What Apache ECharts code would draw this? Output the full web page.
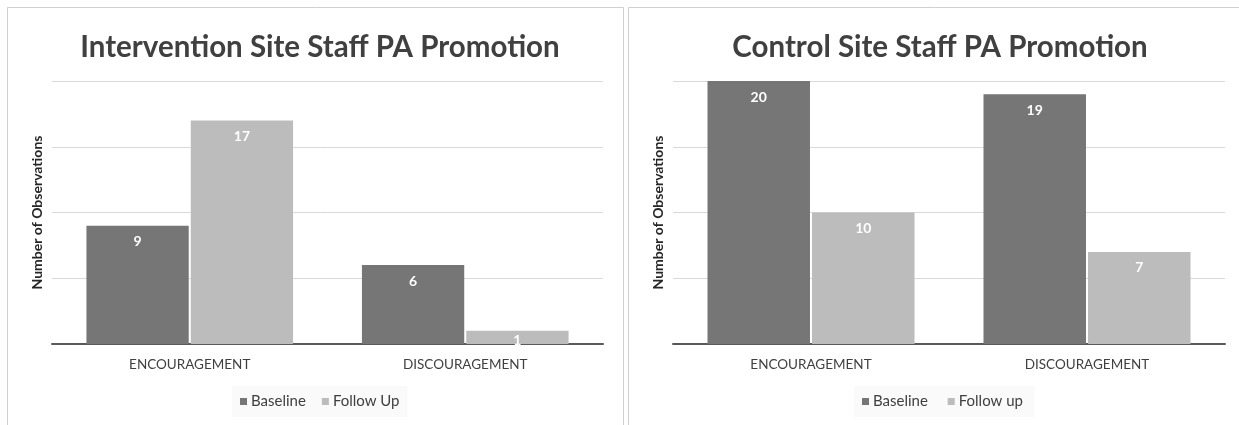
<!DOCTYPE html>
<html><head><meta charset="utf-8">
<script src="https://cdn.jsdelivr.net/npm/echarts@6/dist/echarts.min.js"></script>
<style>html,body{margin:0;padding:0;background:#fff}#c{width:1239px;height:425px}</style>
</head><body><div id="c"></div>
<script>
const categories = ['ENCOURAGEMENT', 'DISCOURAGEMENT'];
const leftTitle = 'Intervention Site Staff PA Promotion';
const rightTitle = 'Control Site Staff PA Promotion';
const leftSeriesNames = ['Baseline', 'Follow Up'];
const rightSeriesNames = ['Baseline', 'Follow up'];
const interventionBaseline = [9, 6];
const interventionFollowUp = [17, 1];
const controlBaseline = [20, 19];
const controlFollowUp = [10, 7];
const yAxisName = 'Number of Observations';

const DARK = '#767676', LIGHT = '#bcbcbc', TXT = '#404040';
const FONT = 'Lato, "Open Sans", sans-serif';

function mkData(vals){
  return vals.map(v => v < 3 ? {value: v, label: {distance: 3}} : v);
}
function barSeries(name, vals, color, idx){
  return {
    type: 'bar', name: name, data: mkData(vals),
    xAxisIndex: idx, yAxisIndex: idx,
    barCategoryGap: '25%', barGap: '2%',
    itemStyle: {color: color},
    label: {show: true, position: 'insideTop', distance: 9, color: '#fff',
            fontWeight: 'bold', fontSize: 14, fontFamily: FONT},
    emphasis: {disabled: true}, animation: false
  };
}
function yAxis(idx){
  return {type: 'value', gridIndex: idx, min: 0, max: 20, interval: 5,
    axisLabel: {show: false}, axisLine: {show: false}, axisTick: {show: false},
    splitLine: {lineStyle: {color: '#d9d9d9', width: 1}},
    name: yAxisName, nameLocation: 'middle', nameGap: 8,
    nameTextStyle: {fontSize: 14, fontWeight: 'bold', color: '#262626', fontFamily: FONT}};
}
function xAxis(idx){
  return {type: 'category', gridIndex: idx, data: categories,
    axisLine: {lineStyle: {color: '#595959', width: 2}}, axisTick: {show: false},
    axisLabel: {fontSize: 13.5, color: TXT, margin: 14, fontFamily: FONT}};
}
function legend(names, left){
  return {data: names.map((n) => ({name: n})), left: left, top: 386, icon: 'rect',
    itemWidth: 7, itemHeight: 7, itemGap: 16, padding: [8, 8, 8, 8],
    backgroundColor: '#fafafa',
    textStyle: {fontSize: 15, color: TXT, fontFamily: FONT, padding: [0, 0, 0, -1]}, selectedMode: false};
}

const chart = echarts.init(document.getElementById('c'), null, {renderer: 'canvas'});
chart.setOption({
  backgroundColor: '#fff',
  animation: false,
  graphic: [
    {type: 'rect', shape: {x: 7.5, y: 7.5, width: 616, height: 430}, style: {fill: 'none', stroke: '#d0d0d0', lineWidth: 1}, silent: true},
    {type: 'rect', shape: {x: 628.5, y: 7.5, width: 640, height: 430}, style: {fill: 'none', stroke: '#d0d0d0', lineWidth: 1}, silent: true}
  ],
  title: [
    {text: leftTitle, left: 315, top: 27, textAlign: 'center',
     textStyle: {fontSize: 29.5, fontWeight: 'bold', color: TXT, fontFamily: FONT}},
    {text: rightTitle, left: 935, top: 27, textAlign: 'center',
     textStyle: {fontSize: 29.5, fontWeight: 'bold', color: TXT, fontFamily: FONT}}
  ],
  legend: [
    legend(leftSeriesNames, 232),
    legend(rightSeriesNames.map(n => n + ' '), 854)
  ],
  grid: [
    {left: 52, top: 81, width: 551, height: 263},
    {left: 673, top: 81, width: 552, height: 263}
  ],
  xAxis: [xAxis(0), xAxis(1)],
  yAxis: [yAxis(0), yAxis(1)],
  series: [
    barSeries(leftSeriesNames[0], interventionBaseline, DARK, 0),
    barSeries(leftSeriesNames[1], interventionFollowUp, LIGHT, 0),
    barSeries(rightSeriesNames[0] + ' ', controlBaseline, DARK, 1),
    barSeries(rightSeriesNames[1] + ' ', controlFollowUp, LIGHT, 1)
  ]
});
</script></body></html>
